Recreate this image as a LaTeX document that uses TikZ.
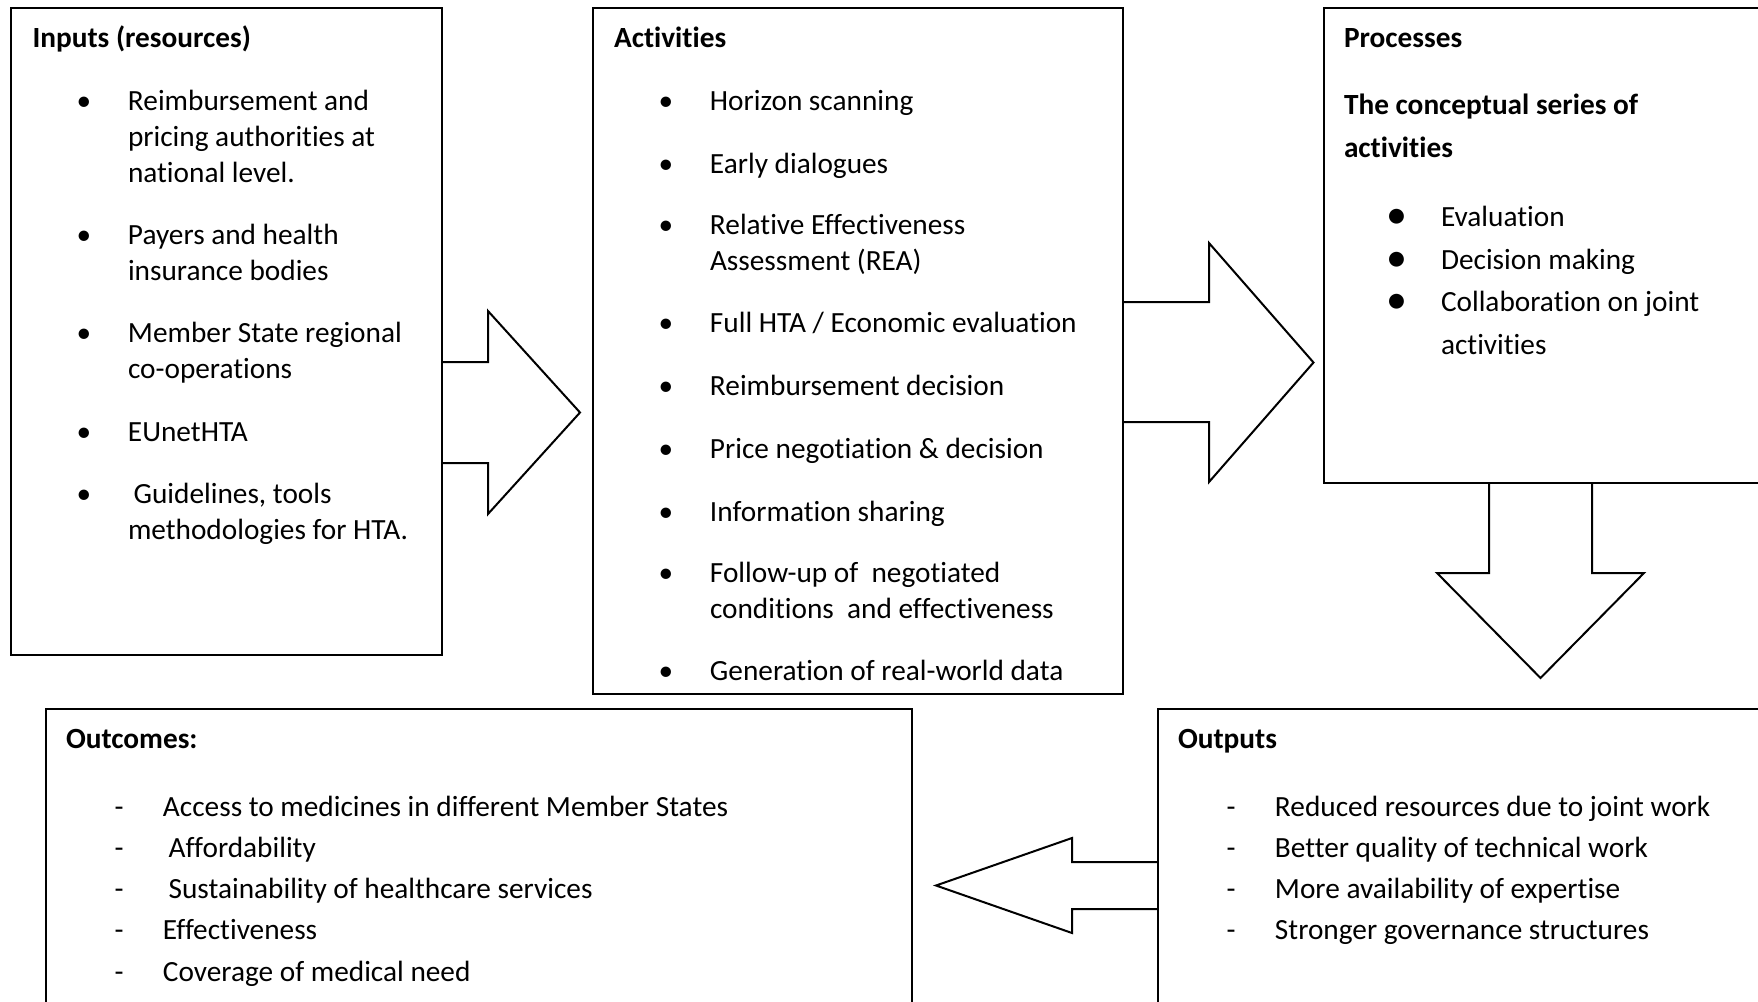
\documentclass[tikz,border=0pt]{standalone}
\usepackage{fontspec}
\setmainfont{Carlito}[Ligatures=NoCommon]
\usetikzlibrary{positioning}

\newcommand{\bul}{\makebox[54pt][l]{\makebox[20pt][c]{•}}}
\newcommand{\bigbul}{\makebox[54pt][l]{\makebox[20pt][c]{\raisebox{-2pt}{\fontsize{42pt}{42pt}\selectfont •}}}}
\newcommand{\dsh}{\makebox[54pt][l]{\makebox[20pt][c]{-}}}
\newcommand{\cont}{\hspace*{54pt}}
\newcommand{\stl}{\rule[-7.5pt]{0pt}{29.5pt}}

\begin{document}
\begin{tikzpicture}[x=1pt,y=-1pt,
  node distance=33.2pt,
  box/.style={draw,line width=2pt,rectangle,anchor=north west,inner sep=0pt,outer sep=0pt},
  item/.style={inner sep=0pt,outer sep=0pt,align=left,font=\fontsize{29.3pt}{36pt}\selectfont,
               execute at begin node=\stl,execute at end node=\stl},
  head/.style={item,font=\bfseries\fontsize{29.3pt}{36pt}\selectfont},
  bigarrow/.style={draw,line width=2pt,line join=miter}
]
\useasboundingbox (0,0) rectangle (1758,1001);
\clip (0,0) rectangle (1758,1001);

%% ---- boxes ----
\node[box,minimum width=431pt,minimum height=647pt] (inputs) at (11,8) {};
\node[box,minimum width=530pt,minimum height=686pt] (activities) at (593,8) {};
\node[box,minimum width=480pt,minimum height=475pt] (processes) at (1324,8) {};
\node[box,minimum width=866pt,minimum height=350pt] (outcomes) at (46,709) {};
\node[box,minimum width=650pt,minimum height=350pt] (outputs) at (1158,709) {};

%% ---- inputs ----
\node[head,below right=17pt and 21.5pt of inputs.north west] (intitle) {Inputs (resources)};
\node[item,below=35.5pt of intitle.south west,anchor=north west,xshift=41.5pt] (in1)
    {\bul Reimbursement and\\\cont pricing authorities at\\\cont national level.};
\node[item,below=34pt of in1.south west,anchor=north west] (in2) {\bul Payers and health\\\cont insurance bodies};
\node[item,below=34pt of in2.south west,anchor=north west] (in3) {\bul Member State regional\\\cont co-operations};
\node[item,below=34pt of in3.south west,anchor=north west] (in4) {\bul EUnetHTA};
\node[item,below=34pt of in4.south west,anchor=north west] (in5)
    {\bul\hspace{5.6pt}Guidelines, tools\\\cont methodologies for HTA.};

%% ---- activities ----
\node[head,below right=17pt and 21pt of activities.north west] (actitle) {Activities};
\node[item,below=34pt of actitle.south west,anchor=north west,xshift=42pt] (ac1) {\bul Horizon scanning};
\node[item,below=of ac1.south west,anchor=north west] (ac2) {\bul Early dialogues};
\node[item,below=of ac2.south west,anchor=north west] (ac3) {\bul Relative Effectiveness\\\cont Assessment (REA)};
\node[item,below=of ac3.south west,anchor=north west] (ac4) {\bul Full HTA / Economic evaluation};
\node[item,below=of ac4.south west,anchor=north west] (ac5) {\bul Reimbursement decision};
\node[item,below=of ac5.south west,anchor=north west] (ac6) {\bul Price negotiation \& decision};
\node[item,below=of ac6.south west,anchor=north west] (ac7) {\bul Information sharing};
\node[item,below=of ac7.south west,anchor=north west] (ac8)
    {\bul Follow-up of\ \ negotiated\\\cont conditions\ \ and effectiveness};
\node[item,below=of ac8.south west,anchor=north west] (ac9) {\bul Generation of real-world data};

%% ---- processes ----
\node[head,below right=17pt and 20pt of processes.north west] (prtitle) {Processes};
\node[head,font=\bfseries\fontsize{29.3pt}{43pt}\selectfont,below=39.7pt of prtitle.south west,anchor=north west] (prsub)
    {The conceptual series of\\activities};
\node[item,font=\fontsize{29.3pt}{42.7pt}\selectfont,below=40.8pt of prsub.south west,anchor=north west,xshift=43pt] (prlist)
    {\bigbul Evaluation\\\bigbul Decision making\\\bigbul Collaboration on joint\\\cont activities};

%% ---- outcomes ----
\node[head,below right=17.5pt and 20pt of outcomes.north west] (octitle) {Outcomes:};
\node[item,font=\fontsize{29.3pt}{41.25pt}\selectfont,below=39.7pt of octitle.south west,anchor=north west,xshift=43pt] (oclist)
    {\dsh Access to medicines in different Member States\\
     \dsh\hspace{5.6pt}Affordability\\
     \dsh\hspace{5.6pt}Sustainability of healthcare services\\
     \dsh Effectiveness\\
     \dsh Coverage of medical need};

%% ---- outputs ----
\node[head,below right=17.5pt and 20pt of outputs.north west] (outitle) {Outputs};
\node[item,font=\fontsize{29.3pt}{41.25pt}\selectfont,below=39.7pt of outitle.south west,anchor=north west,xshift=43pt] (oulist)
    {\dsh Reduced resources due to joint work\\
     \dsh Better quality of technical work\\
     \dsh More availability of expertise\\
     \dsh Stronger governance structures};

%% ---- block arrows ----
\draw[bigarrow] (inputs.east |- 0,362) -- (488,362) -- (488,311) -- (580,412.5)
    -- (488,514) -- (488,463) -- (inputs.east |- 0,463);
\draw[bigarrow] (activities.east |- 0,302) -- (1209,302) -- (1209,243) -- (1313.5,362.5)
    -- (1209,482) -- (1209,422) -- (activities.east |- 0,422);
\draw[bigarrow] (processes.south -| 1489,0) -- (1489,573) -- (1437,573) -- (1540.5,678)
    -- (1644,573) -- (1592,573) -- (processes.south -| 1592,0);
\draw[bigarrow] (outputs.west |- 0,862) -- (1072,862) -- (1072,838) -- (936,885.5)
    -- (1072,933) -- (1072,909) -- (outputs.west |- 0,909);

\end{tikzpicture}
\end{document}
